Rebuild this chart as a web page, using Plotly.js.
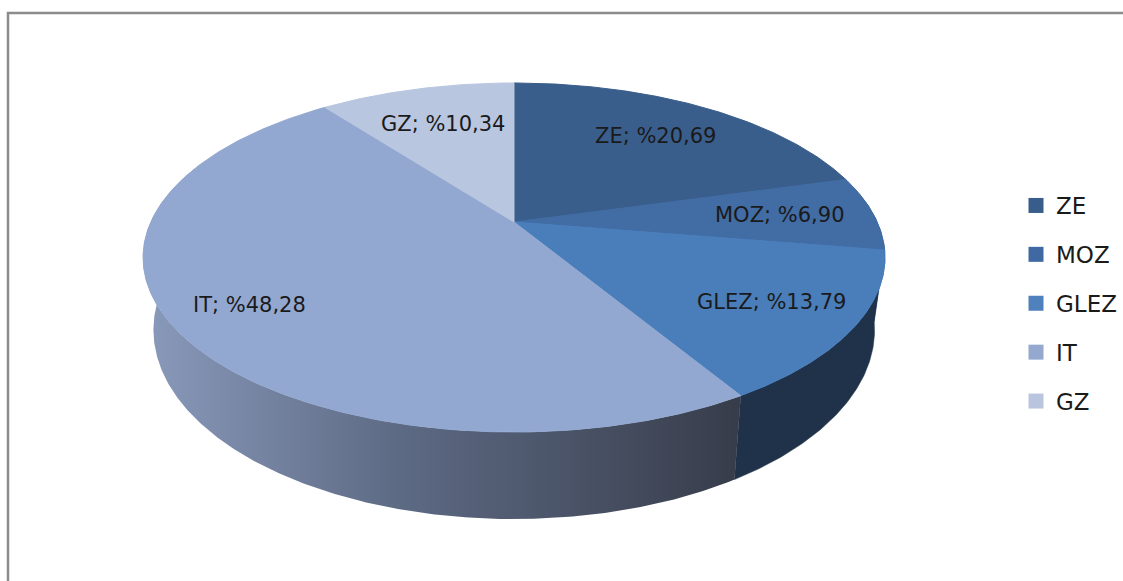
<!DOCTYPE html>
<html><head><meta charset="utf-8">
<script src="https://cdn.plot.ly/plotly-3.0.1.min.js"></script>
<style>html,body{margin:0;padding:0;background:#fff}#chart{width:1123px;height:581px}</style>
</head><body><div id="chart"></div>
<script>
// ---- data ----
const categories = ['ZE', 'MOZ', 'GLEZ', 'IT', 'GZ'];
const percents = [20.69, 6.90, 13.79, 48.28, 10.34];
const labelTexts = ['ZE; %20,69', 'MOZ; %6,90', 'GLEZ; %13,79', 'IT; %48,28', 'GZ; %10,34'];

// ---- style ----
const topColors = ['#3a5e8c', '#416ca4', '#4a7ebb', '#93a8d0', '#b9c6e0'];
const legendColors = ['#385d8a', '#4069a3', '#4f81bd', '#95a9d0', '#b9c5de'];
const sideColors = ['#2a4466', '#2c4a72', '#1f3249', null, '#8797b5'];
const labelRadius = [0.72, 0.74, 0.78, 0.8, 0.7];
const FONT = 'DejaVu Sans';

// projection geometry (pixels)
const cx = 514, cy = 222, s = 363.2, t = 167.3, k = 0.2035, D = 69.3, bottomScale = 0.972;
function proj(r, phiDeg, bottom) {
  const p = phiDeg * Math.PI / 180;
  const X = r * Math.sin(p), Z = r * Math.cos(p);
  const den = 1 + k * Z;
  const sx = bottom ? bottomScale : 1;
  return [cx + s * X * sx / den, cy - t * Z / den + (bottom ? D / den : 0)];
}
function arc(a0, a1, bottom) {
  const pts = [];
  const n = Math.max(2, Math.ceil(Math.abs(a1 - a0) / 0.5));
  for (let i = 0; i <= n; i++) pts.push(proj(1, a0 + (a1 - a0) * i / n, bottom));
  return pts;
}

const total = percents.reduce((a, b) => a + b, 0);
const starts = [], ends = [];
let acc = 0;
percents.forEach(v => { starts.push(acc / total * 360); acc += v; ends.push(acc / total * 360); });

const traces = [];
// sides (front half only visible): GLEZ and IT
categories.forEach((c, i) => {
  let a0 = Math.max(starts[i], 80), a1 = Math.min(ends[i], 290);
  if (a1 <= a0) return;
  const top = arc(a0, a1, false);
  const bot = arc(a1, a0, true);
  const pts = top.concat(bot);
  const tr = {
    type: 'scatter', mode: 'lines', fill: 'toself', hoverinfo: 'skip', showlegend: false,
    x: pts.map(p => p[0]), y: pts.map(p => p[1]),
    line: {width: 0.5, color: sideColors[i] || '#55607a'},
    fillcolor: sideColors[i] || '#55607a'
  };
  if (c === 'IT') {
    tr.fillgradient = {type: 'horizontal',
      colorscale: [[0, '#8a9abb'], [0.43, '#5d6a84'], [1, '#373c4a']]};
    tr.line = {width: 0};
  }
  traces.push(tr);
});
// top faces
categories.forEach((c, i) => {
  const pts = [[cx, cy]].concat(arc(starts[i], ends[i], false));
  pts.push([cx, cy]);
  traces.push({
    type: 'scatter', mode: 'lines', fill: 'toself', hoverinfo: 'skip', showlegend: false,
    x: pts.map(p => p[0]), y: pts.map(p => p[1]),
    line: {width: 1, color: topColors[i]}, fillcolor: topColors[i]
  });
});
// legend entries
categories.forEach((c, i) => {
  traces.push({
    type: 'scatter', mode: 'markers', x: [null], y: [null], name: c, legendgroup: c,
    marker: {symbol: 'square', size: 15, color: legendColors[i]}
  });
});

const annotations = categories.map((c, i) => {
  const mid = (starts[i] + ends[i]) / 2;
  const p = proj(labelRadius[i], mid, false);
  return {x: p[0], y: p[1], xref: 'x', yref: 'y', text: labelTexts[i], showarrow: false,
    font: {family: FONT, size: 21, color: '#1a1a1a'}, xanchor: 'center', yanchor: 'middle'};
});

const layout = {
  width: 1123, height: 581,
  margin: {l: 0, r: 0, t: 0, b: 0},
  paper_bgcolor: '#ffffff', plot_bgcolor: '#ffffff',
  xaxis: {range: [0, 1123], visible: false, fixedrange: true},
  yaxis: {range: [581, 0], visible: false, fixedrange: true},
  showlegend: true,
  legend: {x: 1016 / 1123, xanchor: 'left', y: 1 - 184 / 581, yanchor: 'top',
    font: {family: FONT, size: 23, color: '#1a1a1a'}, traceorder: 'grouped',
    tracegroupgap: 16, itemwidth: 30, bgcolor: 'rgba(0,0,0,0)'},
  shapes: [{type: 'rect', xref: 'x', yref: 'y', x0: 8, y0: 13, x1: 1140, y1: 600,
    line: {color: '#8c8c8c', width: 2.5}, fillcolor: 'rgba(0,0,0,0)', layer: 'below'}],
  annotations: annotations
};
Plotly.newPlot('chart', traces, layout, {displayModeBar: false, staticPlot: true});
</script></body></html>
